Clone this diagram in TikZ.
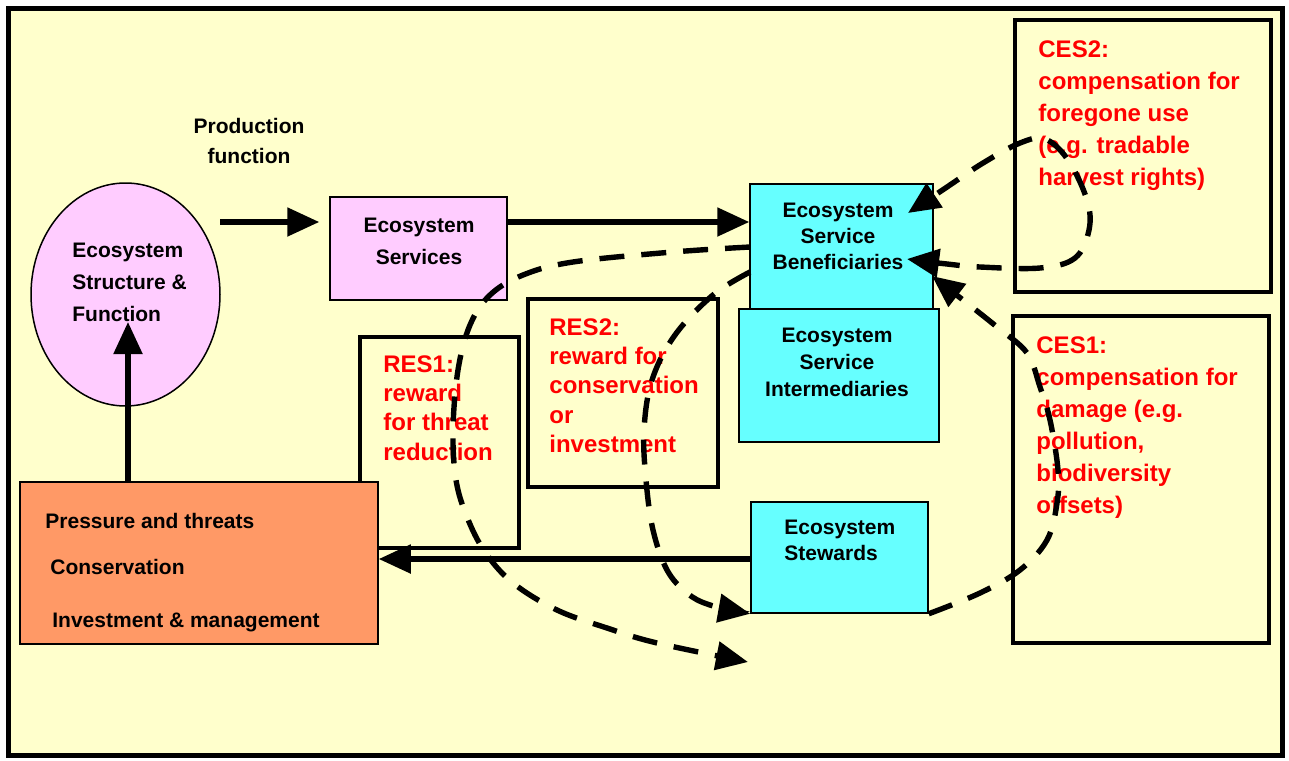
\documentclass[tikz,border=0pt]{standalone}
\usepackage{fontspec}
\setmainfont{Liberation Sans}
\usetikzlibrary{arrows.meta,fit,shapes.geometric}
\definecolor{bgyellow}{HTML}{FFFFCC}
\definecolor{pinkfill}{HTML}{FFCCFF}
\definecolor{cyanfill}{HTML}{66FFFF}
\definecolor{orangefill}{HTML}{FF9966}
\definecolor{redtext}{HTML}{FF0000}
\begin{document}
\begin{tikzpicture}[x=0.5pt,y=-0.5pt,
  thinbox/.style={draw, line width=0.75pt, inner sep=0pt},
  thickbox/.style={draw, line width=2pt, inner sep=0pt},
  blk/.style={font=\bfseries\fontsize{10.5}{#1}\selectfont, inner sep=0pt, text=black},
  blk/.default=13,
  redt/.style={font=\bfseries\fontsize{12}{#1}\selectfont, inner sep=0pt, text=redtext, align=left, anchor=north west},
  redt/.default=16,
  bigtip/.tip={Triangle[length=16pt,width=14pt]},
  solidarrow/.style={line width=2.6pt, -bigtip},
  dasharrow/.style={line width=2.7pt, dash pattern=on 12.5pt off 8.5pt, -bigtip},
  dasharrows/.style={line width=2.7pt, dash pattern=on 12.5pt off 8.5pt, bigtip-bigtip}
]
\useasboundingbox (0,0) rectangle (1289,760);
\fill[white] (0,0) rectangle (1289,760);
\node[fit={(8,8) (1282,755)}, draw, fill=bgyellow, line width=2.5pt, inner sep=0pt] (frame) {};

% reward / compensation boxes
\node[thickbox, fit={(360,337) (519,548)}] (res1) {};
\node[thickbox, fit={(528,299) (718,487)}] (res2) {};
\node[thickbox, fit={(1015,20) (1271,292)}] (ces2) {};
\node[thickbox, fit={(1013,316) (1269,643)}] (ces1) {};

% main nodes
\node[thinbox, ellipse, fill=pinkfill, minimum width=94.5pt, minimum height=111.5pt] (eco) at (125.5,294.5) {};
\node[thinbox, fill=pinkfill, fit={(330,197) (507,300)}] (ess) {};
\node[thinbox, fill=cyanfill, fit={(750,184) (933,310)}] (esb) {};
\node[thinbox, fill=cyanfill, fit={(739,309) (939,442)}] (esi) {};
\node[thinbox, fill=cyanfill, fit={(751,502) (928,613)}] (stew) {};
\node[thinbox, fill=orangefill, fit={(20,482) (378,644)}] (orange) {};

% black texts
\node[blk=15.85, align=left, anchor=north west] (ecot) at (72,243) {Ecosystem\\Structure \&\\Function};
\node[blk=15, align=center, anchor=north] (pft) at (249,118) {Production\\function};
\node[blk=16, align=center, anchor=north] (esst) at (419,218) {Ecosystem\\Services};
\node[blk=13, align=center, anchor=north] (esbt) at (838,203) {Ecosystem\\Service\\Beneficiaries};
\node[blk=13.5, align=center, anchor=north] (esit) at (837,328) {Ecosystem\\Service\\Intermediaries};
\node[blk=13, align=left, anchor=north west] (stewt) at (784,520) {Ecosystem\\Stewards};
\node[blk, anchor=base west] (pt1) at (45,528) {Pressure and threats};
\node[blk, anchor=base west] (pt2) at (50,574) {Conservation};
\node[blk, anchor=base west] (pt3) at (52,627) {Investment \& management};

% red texts
\node[redt=14.65] (res1t) at (383,355) {RES1:\\reward\\for threat\\reduction};
\node[redt=14.65] (res2t) at (549,318) {RES2:\\reward for\\conservation\\or\\investment};
\node[redt=16] (ces2t) at (1038,40) {CES2:\\compensation for\\foregone use\\(e.g. tradable\\harvest rights)};
\node[redt=16] (ces1t) at (1036,336) {CES1:\\compensation for\\damage (e.g.\\pollution,\\biodiversity\\offsets)};

% coordinates
\coordinate (pfs) at (220,222);
\coordinate (upE) at (128,322);
\coordinate (ys) at (0,559);
\coordinate (c1s) at (750,247);
\coordinate (c1e) at (748,662);
\coordinate (c2s) at (750,272);
\coordinate (c3a) at (907,259);
\coordinate (c3b) at (908,213);
\coordinate (c4e) at (932,276);

% solid arrows
\draw[solidarrow, shorten >=5pt] (pfs) -- (pfs -| ess.west);
\draw[solidarrow] (pfs -| ess.east) -- (pfs -| esb.west);
\draw[solidarrow] (upE |- orange.north) -- (upE);
\draw[solidarrow] (ys -| stew.west) -- (ys -| orange.east);

% dashed arrows
\draw[dasharrow] plot[smooth, tension=0.6] coordinates {(c1s) (673,252) (573,262) (523,275) (490,295) (470,325) (458,370) (453,430) (456,480) (467,517) (485,552) (513,583) (557,610) (607,628) (657,643) (c1e)};
\draw[dasharrow] plot[smooth, tension=0.6] coordinates {(c2s) (713,295) (675,335) (652,380) (644,430) (646,480) (653,530) (667,570) (687,593) (710,605) (stew.south west)};
\draw[dasharrows] plot[smooth, tension=0.6] coordinates {(c3a) (947,264) (980,267) (1040,268) (1075,258) (1089,230) (1087,200) (1068,160) (1045,139) (1020,143) (983,163) (947,187) (c3b)};
\draw[dasharrow] plot[smooth, tension=0.6] coordinates {(stew.south east) (980,593) (1020,570) (1047,540) (1057,503) (1058,470) (1050,420) (1040,387) (1027,353) (997,327) (963,300) (c4e)};
\end{tikzpicture}
\end{document}
